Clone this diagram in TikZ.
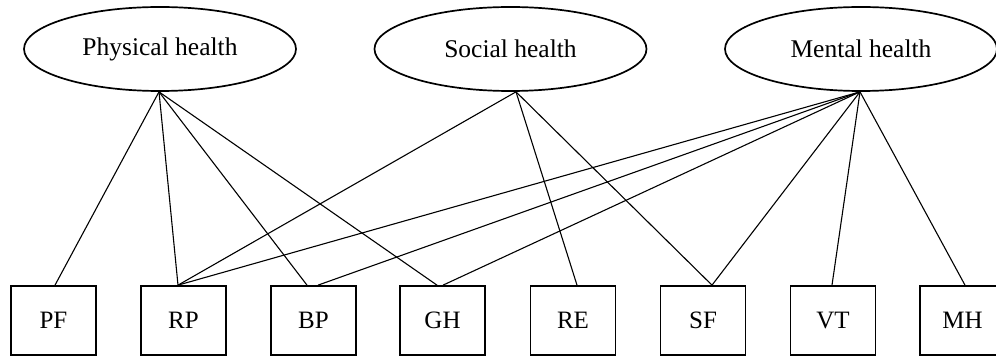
\documentclass[tikz,border=0pt]{standalone}
\usepackage{fontspec}
\setmainfont{Liberation Serif}
\usetikzlibrary{shapes.geometric}
\begin{document}
\begin{tikzpicture}[x=1pt,y=-1pt,
  factor/.style={draw, ellipse, line width=1.7pt, minimum width=272pt, minimum height=84pt, inner sep=0pt, font=\fontsize{25.5}{30}\selectfont},
  item/.style={draw, rectangle, line width=1.7pt, minimum width=85pt, minimum height=69pt, inner sep=0pt, font=\fontsize{25}{30}\selectfont},
  link/.style={line width=1.1pt}]
\useasboundingbox[fill=white] (0,0) rectangle (996,358);
\node[factor] (PH) at (160,49) {Physical health};
\node[factor] (SH) at (510.5,49) {Social health};
\node[factor] (MHf) at (861,49) {Mental health};
\node[item] (PF) at (53.5,320.5) {PF};
\node[item] (RP) at (183.5,320.5) {RP};
\node[item] (BP) at (313.5,320.5) {BP};
\node[item] (GH) at (442.5,320.5) {GH};
\node[item] (RE) at (573,320.5) {RE};
\node[item] (SF) at (703,320.5) {SF};
\node[item] (VT) at (833,320.5) {VT};
\node[item] (MH) at (962.5,320.5) {MH};
% Physical health
\draw[link] ([xshift=-1pt]PH.south) -- ([xshift=1.5pt]PF.north);
\draw[link] ([xshift=-1pt]PH.south) -- ([xshift=-5.5pt]RP.north);
\draw[link] ([xshift=-1pt]PH.south) -- ([xshift=-6.5pt]BP.north);
\draw[link] ([xshift=-1pt]PH.south) -- ([xshift=-5.5pt]GH.north);
% Social health
\draw[link] ([xshift=5.5pt]SH.south) -- ([xshift=-5.5pt]RP.north);
\draw[link] ([xshift=5.5pt]SH.south) -- ([xshift=4pt]RE.north);
\draw[link] ([xshift=5.5pt]SH.south) -- ([xshift=9pt]SF.north);
% Mental health
\draw[link] ([xshift=-1pt]MHf.south) -- ([xshift=-5.5pt]RP.north);
\draw[link] ([xshift=-1pt]MHf.south) -- ([xshift=4.5pt]BP.north);
\draw[link] ([xshift=-1pt]MHf.south) -- ([xshift=0.5pt]GH.north);
\draw[link] ([xshift=-1pt]MHf.south) -- ([xshift=9pt]SF.north);
\draw[link] ([xshift=-1pt]MHf.south) -- ([xshift=-1pt]VT.north);
\draw[link] ([xshift=-1pt]MHf.south) -- ([xshift=2.5pt]MH.north);
\end{tikzpicture}
\end{document}
